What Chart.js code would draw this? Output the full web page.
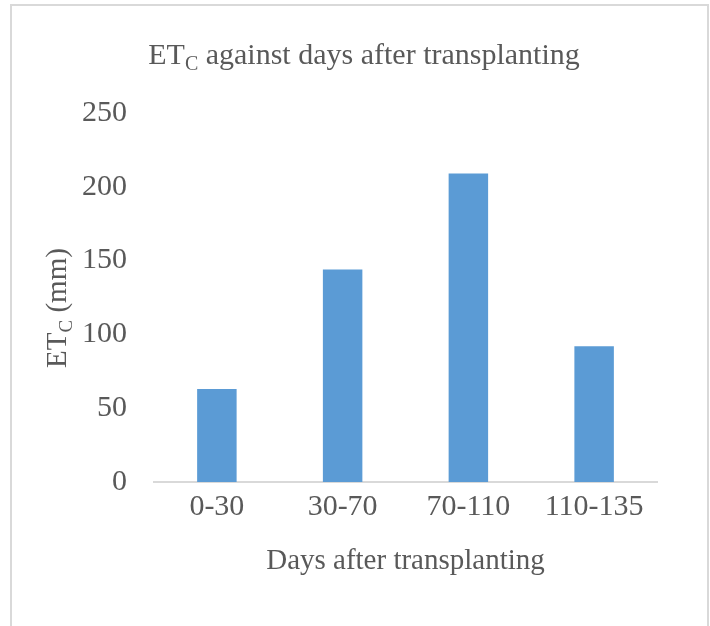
<!DOCTYPE html>
<html>
<head>
<meta charset="utf-8">
<script src="https://cdn.jsdelivr.net/npm/chart.js@4.4.1/dist/chart.umd.min.js"></script>
<style>
  body { margin: 0; background: #fff; }
  #wrap { width: 710px; height: 626px; }
</style>
</head>
<body>
<div id="wrap"><canvas id="etc_chart"></canvas></div>
<script>
// ETc per growth stage
const categories = ["0-30", "30-70", "70-110", "110-135"];
const etcValues = [63, 144, 209, 92];
const yMax = 250;
const yStep = 50;

const textColor = "#595959";
const serif = "'Liberation Serif', 'Times New Roman', serif";

// draws "ET" + subscript "C" + rest, starting at x (left aligned, alphabetic baseline)
function drawSubText(ctx, x, y, size, rest) {
    ctx.font = size + "px " + serif;
    ctx.fillText("ET", x, y);
    x += ctx.measureText("ET").width;
    const sub = Math.round(size * 0.65);
    ctx.font = sub + "px " + serif;
    ctx.fillText("C", x, y + size * 0.2);
    x += ctx.measureText("C").width;
    ctx.font = size + "px " + serif;
    ctx.fillText(rest, x, y);
}

function subTextWidth(ctx, size, rest) {
    ctx.font = size + "px " + serif;
    let w = ctx.measureText("ET").width + ctx.measureText(rest).width;
    ctx.font = Math.round(size * 0.65) + "px " + serif;
    return w + ctx.measureText("C").width;
}

const decor = {
    id: "decor",
    beforeDraw(chart) {
        const ctx = chart.ctx;
        ctx.save();
        ctx.fillStyle = "#fff";
        ctx.fillRect(0, 0, chart.width, chart.height);
        ctx.strokeStyle = "#d9d9d9";
        ctx.lineWidth = 2;
        ctx.strokeRect(11, 5, 697, 700);
        ctx.restore();
    },
    afterDraw(chart) {
        const ctx = chart.ctx;
        ctx.save();
        ctx.fillStyle = textColor;
        ctx.textBaseline = "alphabetic";
        ctx.textAlign = "left";
        // chart title
        const tSize = 30;
        const tRest = " against days after transplanting";
        const tw = subTextWidth(ctx, tSize, tRest);
        drawSubText(ctx, 364 - tw / 2, 64, tSize, tRest);
        // y axis title
        const ySize = 29;
        const yRest = " (mm)";
        const yw = subTextWidth(ctx, ySize, yRest);
        ctx.translate(66, 308);
        ctx.rotate(-Math.PI / 2);
        drawSubText(ctx, -yw / 2, 0, ySize, yRest);
        ctx.restore();
    }
};

new Chart(document.getElementById("etc_chart"), {
    type: "bar",
    data: {
        labels: categories,
        datasets: [{
            data: etcValues,
            backgroundColor: "#5B9BD5",
            barPercentage: 0.314,
            categoryPercentage: 1
        }]
    },
    options: {
        responsive: true,
        maintainAspectRatio: false,
        animation: false,
        layout: { padding: { top: 113, right: 53, left: 0, bottom: 0 } },
        plugins: {
            legend: { display: false },
            title: { display: false },
            tooltip: { enabled: false }
        },
        scales: {
            x: {
                grid: { display: false, drawTicks: false },
                border: { display: true, color: "#d9d9d9", width: 2 },
                ticks: {
                    color: textColor,
                    font: { family: serif, size: 30 },
                    padding: 7,
                    maxRotation: 0,
                    autoSkip: false
                },
                title: {
                    display: true,
                    text: "Days after transplanting",
                    color: textColor,
                    font: { family: serif, size: 29 },
                    padding: { top: 0, bottom: 47 }
                },
                afterFit(scale) { scale.height = 144; }
            },
            y: {
                min: 0,
                max: yMax,
                grid: { display: false, drawTicks: false },
                border: { display: false },
                ticks: {
                    stepSize: yStep,
                    color: textColor,
                    font: { family: serif, size: 30 },
                    padding: 27
                },
                afterFit(scale) { scale.width = 154; }
            }
        }
    },
    plugins: [decor]
});
</script>
</body>
</html>
